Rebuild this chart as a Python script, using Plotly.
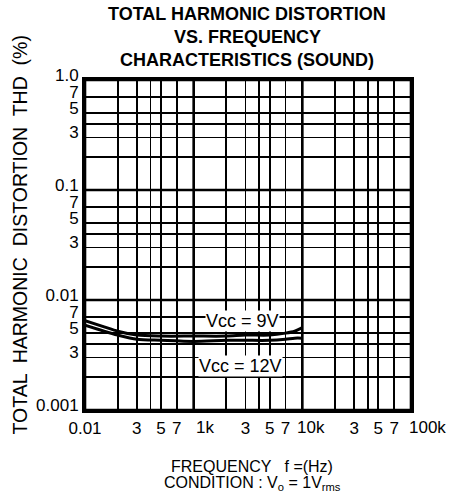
import plotly.graph_objects as go
import math

# ---- data ----
freq_hz = [100, 150, 200, 300, 500, 1000, 2000, 3000, 5000, 7000, 8500, 10000]
thd_9v = [0.0065, 0.0057, 0.0052, 0.0048, 0.0047, 0.0047, 0.0047, 0.0048, 0.0048, 0.0050, 0.0052, 0.0056]
thd_12v = [0.0059, 0.0052, 0.0048, 0.0044, 0.0043, 0.0042, 0.0043, 0.0043, 0.0043, 0.0044, 0.0045, 0.0045]

x_tickvals = [100, 200, 300, 400, 500, 700, 1000, 2000, 3000, 4000, 5000, 7000,
              10000, 20000, 30000, 40000, 50000, 70000, 100000]
x_ticklabels = ["0.01", "", "3", "", "5", "7", "1k", "", "3", "", "5", "7",
                "10k", "", "3", "", "5", "7", "100k"]
x_decades = [100, 1000, 10000, 100000]

y_tickvals = [0.001, 0.002, 0.003, 0.004, 0.005, 0.007,
              0.01, 0.02, 0.03, 0.04, 0.05, 0.07,
              0.1, 0.2, 0.3, 0.4, 0.5, 0.7, 1.0]
y_ticklabels = ["0.001", "", "3", "", "5", "7",
                "0.01", "", "3", "", "5", "7",
                "0.1", "", "3", "", "5", "7", "1.0"]
y_decades = [0.001, 0.01, 0.1, 1.0]

series_labels = ["Vcc = 9V", "Vcc = 12V"]
label_pos = [(2800, 0.0064), (2700, 0.0025)]

title_lines = ["TOTAL HARMONIC DISTORTION", "VS. FREQUENCY", "CHARACTERISTICS (SOUND)"]
xtitle_lines = ["FREQUENCY   f =(Hz)", "CONDITION : V<sub>o</sub> = 1V<sub>rms</sub>"]
ytitle = "TOTAL  HARMONIC  DISTORTION  THD  (%)"

FONT = "Liberation Sans, Arial, sans-serif"
PL, PT, PW, PH = 85, 80, 326, 330  # plot area in px


def py(ypix):
    return (PT + PH - ypix) / PH


def px(xpix):
    return (xpix - PL) / PW


# 'k' labels sit with their numeral on the tick -> drawn as shifted labels
kshift = {"1k": 11, "10k": 9, "100k": 16}
x_ticktext = ["" if t in kshift else t for t in x_ticklabels]

fig = go.Figure()
for ys in (thd_9v, thd_12v):
    fig.add_trace(go.Scatter(x=freq_hz, y=ys, mode="lines",
                             line=dict(color="black", width=3, shape="spline", smoothing=0.8),
                             showlegend=False, hoverinfo="skip"))

shapes = []
for d in x_decades:
    shapes.append(dict(type="line", xref="x", yref="paper", x0=d, x1=d, y0=0, y1=1,
                       line=dict(color="black", width=2.6), layer="below"))
for d in y_decades:
    shapes.append(dict(type="line", xref="paper", yref="y", x0=0, x1=1, y0=d, y1=d,
                       line=dict(color="black", width=2.6), layer="below"))

annotations = []
for v, t in zip(x_tickvals, x_ticklabels):
    if t in kshift:
        annotations.append(dict(x=math.log10(v), xref="x", y=py(428), yref="paper",
                                text=t, showarrow=False, xanchor="center", yanchor="middle",
                                xshift=kshift[t],
                                font=dict(family=FONT, size=17, color="black")))

for txt, (fx, fy) in zip(series_labels, label_pos):
    annotations.append(dict(x=math.log10(fx), y=math.log10(fy), xref="x", yref="y",
                            text=txt, showarrow=False, bgcolor="white", borderpad=0,
                            font=dict(family=FONT, size=18, color="black")))

for t, yc in zip(title_lines, [14, 37, 60]):
    annotations.append(dict(text=t, xref="paper", yref="paper", x=px(247), y=py(yc),
                            xanchor="center", yanchor="middle", showarrow=False,
                            font=dict(family=FONT, size=18, color="black", weight="bold")))

annotations.append(dict(text=ytitle, xref="paper", yref="paper", x=px(19), y=py(235.5),
                        xanchor="center", yanchor="middle", textangle=-90, showarrow=False,
                        font=dict(family=FONT, size=19.5, color="black")))

for t, yc in zip(xtitle_lines, [466, 483]):
    annotations.append(dict(text=t, xref="paper", yref="paper", x=px(252), y=py(yc),
                            xanchor="center", yanchor="middle", showarrow=False,
                            font=dict(family=FONT, size=16, color="black")))

fig.update_layout(
    width=452, height=504,
    margin=dict(l=PL, r=452 - PL - PW, t=PT, b=504 - PT - PH, autoexpand=False),
    paper_bgcolor="white", plot_bgcolor="white",
    font=dict(family=FONT, color="black"),
    shapes=shapes, annotations=annotations,
    hovermode=False,
    xaxis=dict(type="log", range=[2, 5], tickmode="array", tickvals=x_tickvals,
               ticktext=x_ticktext, showgrid=True, gridcolor="black", gridwidth=1.8,
               showline=True, linecolor="black", linewidth=3, mirror=True,
               ticks="", zeroline=False, tickfont=dict(size=17, family=FONT),
               tickangle=0, ticklabelstandoff=1, automargin=False),
    yaxis=dict(type="log", range=[-3, 0], tickmode="array", tickvals=y_tickvals,
               ticktext=y_ticklabels, showgrid=True, gridcolor="black", gridwidth=1.8,
               showline=True, linecolor="black", linewidth=3, mirror=True,
               ticks="", zeroline=False, tickfont=dict(size=17, family=FONT),
               ticklabelstandoff=0, ticklabelshift=-5, automargin=False),
)

fig.write_html("out.html",
               config={"displayModeBar": False, "staticPlot": True},
               post_script="document.body.style.margin='0';document.body.style.padding='0';")
